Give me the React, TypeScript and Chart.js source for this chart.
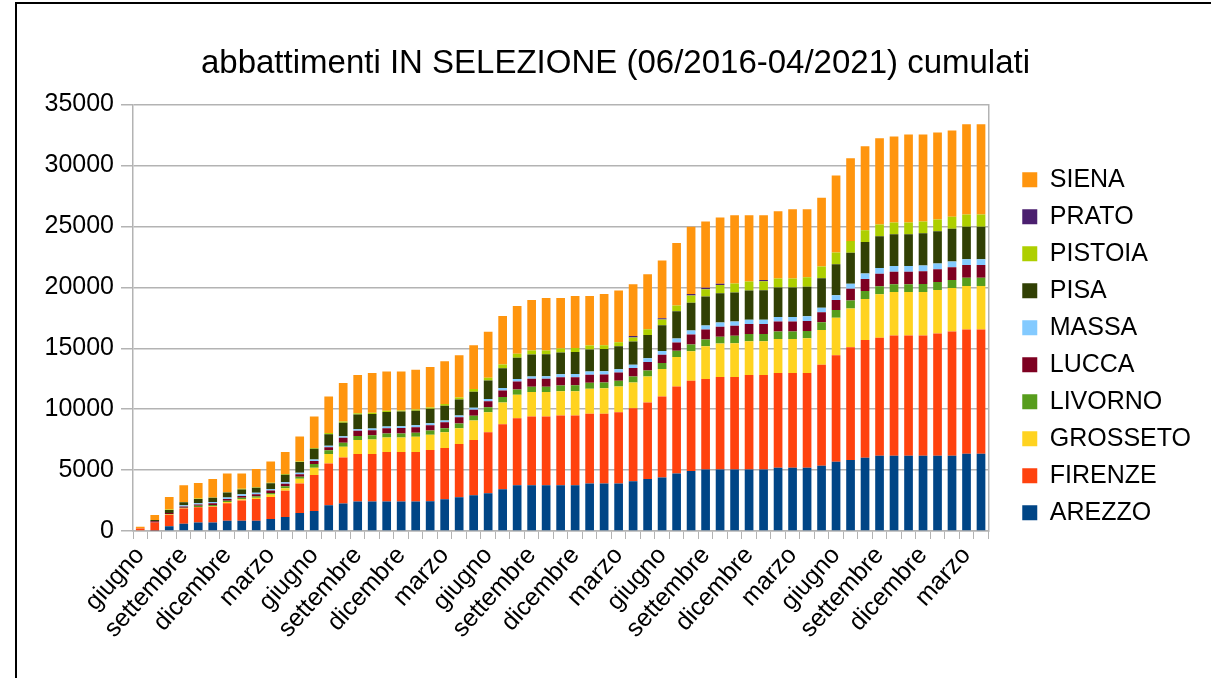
import React, { useEffect, useRef } from "react";
import { Chart, registerables } from "chart.js";

Chart.register(...registerables);

const categories = [
  "giugno", "luglio", "agosto", "settembre", "ottobre", "novembre", "dicembre",
  "gennaio", "febbraio", "marzo", "aprile", "maggio", "giugno", "luglio", "agosto", "settembre", "ottobre", "novembre", "dicembre",
  "gennaio", "febbraio", "marzo", "aprile", "maggio", "giugno", "luglio", "agosto", "settembre", "ottobre", "novembre", "dicembre",
  "gennaio", "febbraio", "marzo", "aprile", "maggio", "giugno", "luglio", "agosto", "settembre", "ottobre", "novembre", "dicembre",
  "gennaio", "febbraio", "marzo", "aprile", "maggio", "giugno", "luglio", "agosto", "settembre", "ottobre", "novembre", "dicembre",
  "gennaio", "febbraio", "marzo", "aprile",
];

const arezzo = [0, 50, 385, 600, 690, 690, 850, 850, 850, 990, 1150, 1480, 1650, 2120, 2250, 2420, 2420, 2420, 2420, 2420, 2450, 2610, 2770, 2940, 3100, 3430, 3760, 3760, 3760, 3760, 3760, 3900, 3900, 3900, 4090, 4260, 4400, 4730, 4920, 5050, 5050, 5050, 5050, 5050, 5190, 5190, 5190, 5360, 5690, 5820, 6020, 6180, 6180, 6180, 6180, 6180, 6180, 6350, 6350];
const firenze = [200, 650, 935, 1250, 1250, 1310, 1430, 1650, 1780, 1800, 2150, 2420, 2940, 3430, 3790, 3900, 3900, 4060, 4060, 4060, 4200, 4200, 4370, 4530, 5000, 5330, 5500, 5640, 5640, 5720, 5720, 5720, 5720, 5850, 5990, 6290, 6640, 7140, 7420, 7420, 7590, 7590, 7750, 7750, 7780, 7780, 7780, 8290, 8730, 9260, 9650, 9690, 9860, 9860, 9860, 10030, 10190, 10190, 10190];
const grosseto = [0, 0, 30, 30, 30, 30, 100, 100, 100, 200, 200, 380, 600, 770, 880, 1150, 1200, 1200, 1200, 1260, 1260, 1290, 1290, 1590, 1650, 1790, 1920, 2000, 2000, 2000, 2000, 2060, 2090, 2110, 2110, 2140, 2250, 2420, 2420, 2690, 2750, 2780, 2780, 2780, 2800, 2800, 2850, 2850, 3080, 3190, 3380, 3570, 3570, 3570, 3580, 3580, 3580, 3580, 3580];
const livorno = [0, 0, 30, 30, 100, 110, 110, 130, 130, 130, 170, 170, 300, 300, 330, 330, 330, 330, 330, 330, 330, 330, 400, 400, 400, 440, 440, 440, 440, 470, 480, 480, 480, 480, 490, 490, 490, 500, 550, 550, 560, 600, 600, 600, 600, 600, 600, 630, 650, 650, 650, 650, 650, 650, 650, 650, 650, 660, 660];
const lucca = [0, 100, 100, 100, 110, 140, 140, 150, 150, 200, 200, 200, 250, 250, 400, 430, 430, 430, 450, 450, 450, 500, 500, 500, 500, 550, 660, 660, 660, 660, 660, 660, 660, 660, 690, 690, 690, 690, 820, 820, 820, 820, 820, 820, 820, 820, 820, 820, 820, 960, 990, 1020, 1020, 1020, 1050, 1050, 1050, 1050, 1050];
const massa = [0, 0, 0, 100, 100, 100, 130, 130, 130, 130, 130, 130, 130, 130, 130, 130, 130, 130, 140, 150, 150, 150, 150, 150, 190, 190, 190, 190, 200, 250, 270, 270, 270, 270, 270, 300, 300, 330, 330, 330, 350, 350, 350, 350, 380, 380, 380, 380, 380, 410, 450, 470, 470, 470, 470, 470, 470, 470, 470];
const pisa = [0, 100, 250, 250, 350, 350, 400, 400, 400, 470, 620, 880, 880, 950, 1100, 1200, 1200, 1200, 1200, 1200, 1200, 1200, 1320, 1320, 1510, 1620, 1760, 1800, 1800, 1800, 1810, 1810, 1810, 1900, 1920, 1920, 2120, 2230, 2280, 2390, 2390, 2390, 2390, 2420, 2420, 2420, 2420, 2420, 2550, 2550, 2580, 2610, 2610, 2610, 2650, 2650, 2680, 2680, 2680];
const pistoia = [0, 0, 30, 30, 30, 30, 30, 50, 50, 50, 50, 50, 60, 100, 100, 100, 100, 100, 100, 100, 100, 150, 150, 220, 220, 320, 320, 320, 320, 320, 320, 320, 320, 320, 330, 470, 470, 470, 600, 600, 690, 740, 740, 740, 740, 740, 790, 960, 960, 960, 960, 960, 960, 960, 960, 960, 990, 990, 990];
const prato = [0, 0, 0, 0, 0, 0, 0, 0, 0, 0, 0, 0, 0, 0, 0, 0, 0, 0, 0, 0, 0, 0, 0, 0, 0, 0, 0, 0, 0, 0, 0, 0, 0, 0, 120, 0, 100, 0, 120, 120, 100, 0, 0, 100, 0, 0, 0, 0, 0, 0, 0, 0, 0, 0, 0, 0, 0, 0, 0];
const siena = [150, 420, 1040, 1370, 1270, 1500, 1540, 1270, 1490, 1740, 1810, 2040, 2590, 2990, 3160, 3140, 3260, 3230, 3200, 3270, 3320, 3500, 3470, 3600, 3780, 3970, 3910, 4150, 4300, 4140, 4270, 4070, 4200, 4260, 4240, 4510, 4740, 5120, 5510, 5440, 5440, 5590, 5430, 5300, 5510, 5670, 5570, 5650, 6320, 6800, 6910, 7080, 7070, 7230, 7150, 7150, 7090, 7410, 7410];

const seriesNames = ["AREZZO", "FIRENZE", "GROSSETO", "LIVORNO", "LUCCA", "MASSA", "PISA", "PISTOIA", "PRATO", "SIENA"];
const seriesColors = ["#004586", "#ff420e", "#ffd320", "#579d1c", "#7e0021", "#83caff", "#314004", "#aecf00", "#4b1f6f", "#ff950e"];
const seriesValues = [arezzo, firenze, grosseto, livorno, lucca, massa, pisa, pistoia, prato, siena];

const titleText = "abbattimenti IN SELEZIONE (06/2016-04/2021) cumulati";
const FONT = "'Liberation Sans', Arial, sans-serif";

export default function App() {
  const ref = useRef<HTMLCanvasElement>(null);

  useEffect(() => {
    const canvas = ref.current;
    if (!canvas) return;
    const chart = new Chart(canvas, {
      type: "bar",
      data: {
        labels: categories,
        datasets: seriesNames.map((name, i) => ({
          label: name,
          data: seriesValues[i],
          backgroundColor: seriesColors[i],
          borderWidth: 0,
          categoryPercentage: 1,
          barPercentage: 0.6,
        })),
      },
      options: {
        responsive: false,
        animation: false,
        layout: { padding: { left: 30, right: 10, top: 0, bottom: 0 } },
        plugins: {
          title: {
            display: true,
            text: titleText,
            color: "#000",
            font: { family: FONT, size: 33, weight: "normal" },
            padding: { top: 44, bottom: 21 },
          },
          legend: {
            position: "right",
            reverse: true,
            title: { display: true, text: "", padding: 0, font: { family: FONT, size: 12 } },
            labels: {
              color: "#000",
              font: { family: FONT, size: 25 },
              boxWidth: 15,
              boxHeight: 15,
              padding: 12,
            },
          },
          tooltip: { enabled: false },
        },
        scales: {
          x: {
            stacked: true,
            grid: { display: true, drawOnChartArea: false, drawTicks: true, tickLength: 8, color: "#b3b3b3", offset: true },
            border: { display: true, color: "#b3b3b3", width: 1.5 },
            ticks: {
              autoSkip: false,
              maxRotation: 48,
              minRotation: 48,
              color: "#000",
              padding: 2,
              font: { family: FONT, size: 25 },
              callback: (_v: any, i: number) => (i % 3 === 0 ? categories[i] : ""),
            },
            afterFit: (s: any) => { s.height = 147; },
          },
          y: {
            stacked: true,
            min: 0,
            max: 35000,
            ticks: {
              stepSize: 5000,
              color: "#000",
              padding: 7,
              font: { family: FONT, size: 25 },
              callback: (v: any) => String(v),
            },
            grid: { color: "#b3b3b3", lineWidth: 1.5, tickLength: 12 },
            border: { display: true, color: "#b3b3b3", width: 1.5 },
            afterFit: (s: any) => { s.width = 103; },
          },
          y2: {
            type: "linear",
            position: "right",
            min: 0,
            max: 35000,
            ticks: { display: false },
            grid: { display: false, drawTicks: false },
            border: { display: true, color: "#b3b3b3", width: 1.5 },
            afterFit: (s: any) => { s.width = 22; },
          },
        },
      } as any,
    });
    return () => chart.destroy();
  }, []);

  return (
    <div style={{ position: "fixed", left: 0, top: 0, width: 1211, height: 678, background: "#fff", overflow: "hidden" }}>
      <canvas ref={ref} width={1211} height={678} style={{ position: "absolute", left: 0, top: 0 }} />
      <div style={{ position: "absolute", left: 15, top: 2, width: 1300, height: 800, borderLeft: "2px solid #000", borderTop: "2px solid #000", pointerEvents: "none" }} />
    </div>
  );
}
